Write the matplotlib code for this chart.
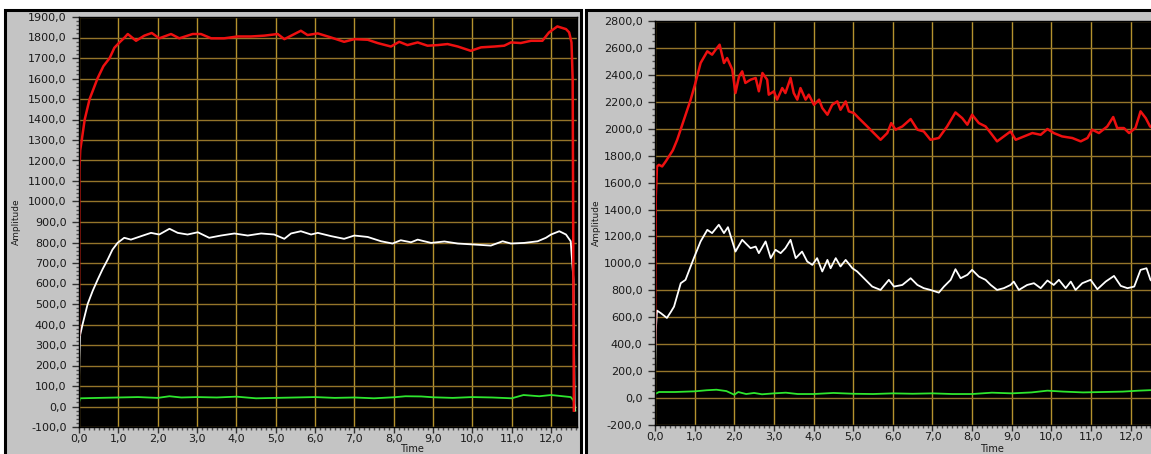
import matplotlib
matplotlib.use("Agg")
import matplotlib.pyplot as plt
from matplotlib.patches import Rectangle
from matplotlib.ticker import MultipleLocator, FuncFormatter

# ---------------- data ----------------
# Left graph
L_red_t = [0, 0.01, 0.03, 0.07, 0.145, 0.27, 0.47, 0.62, 0.78, 0.9, 1.05, 1.16, 1.24, 1.45, 1.66,
           1.85, 2.04, 2.34, 2.55, 2.89, 3.1, 3.36, 3.69, 4.03, 4.37, 4.71, 5.05, 5.22, 5.64, 5.81,
           6.07, 6.41, 6.74, 7.0, 7.34, 7.59, 7.93, 8.14, 8.35, 8.61, 8.86, 9.12, 9.37, 9.63, 9.96,
           10.22, 10.56, 10.81, 10.98, 11.23, 11.49, 11.78, 11.95, 12.16, 12.38, 12.46, 12.52, 12.55, 12.58]
L_red_v = [350, 1150, 1250, 1300, 1400, 1500, 1600, 1660, 1700, 1750, 1780, 1800, 1817, 1784, 1809,
           1822, 1796, 1817, 1796, 1817, 1817, 1796, 1796, 1805, 1805, 1809, 1817, 1792, 1833, 1812,
           1820, 1800, 1779, 1792, 1789, 1773, 1756, 1779, 1763, 1776, 1760, 1763, 1768, 1756, 1735,
           1752, 1756, 1760, 1776, 1773, 1784, 1784, 1825, 1854, 1841, 1825, 1776, 1597, -20]

L_white_t = [0, 0.01, 0.03, 0.09, 0.22, 0.35, 0.475, 0.6, 0.73, 0.85, 0.98, 1.15, 1.32, 1.58, 1.83,
             2.04, 2.3, 2.51, 2.76, 3.02, 3.31, 3.61, 3.95, 4.29, 4.63, 4.96, 5.22, 5.39, 5.64, 5.9,
             6.07, 6.41, 6.74, 7.0, 7.34, 7.68, 7.97, 8.18, 8.44, 8.61, 8.95, 9.29, 9.63, 10.05, 10.47,
             10.77, 10.98, 11.32, 11.66, 11.87, 12.0, 12.21, 12.38, 12.5, 12.57, 12.6]
L_white_v = [120, 230, 350, 400, 500, 565, 619, 670, 717, 765, 798, 823, 814, 831, 847,
             839, 867, 847, 839, 850, 823, 834, 844, 834, 844, 839, 818, 844, 855, 839,
             847, 831, 818, 834, 827, 806, 795, 811, 801, 814, 798, 805, 795, 790, 785,
             806, 795, 798, 806, 823, 839, 855, 839, 806, 619, -20]

L_green_t = [0, 0.03, 0.5, 1.0, 1.5, 2.0, 2.3, 2.6, 3.0, 3.5, 4.0, 4.5, 5.0, 5.5, 6.0, 6.5, 7.0,
             7.5, 8.0, 8.3, 8.7, 9.0, 9.5, 10.0, 10.5, 11.0, 11.3, 11.7, 12.0, 12.3, 12.5, 12.57, 12.62]
L_green_v = [20, 40, 42, 44, 46, 42, 50, 44, 46, 44, 48, 40, 42, 44, 46, 42, 44,
             40, 45, 50, 49, 45, 42, 46, 44, 40, 56, 50, 56, 50, 46, 30, -20]

# Right graph
R_red_t = [0, 0.02, 0.05, 0.1, 0.18, 0.27, 0.35, 0.45, 0.56, 0.73, 0.9, 1.02, 1.15, 1.32, 1.44,
           1.53, 1.63, 1.74, 1.82, 1.95, 2.03, 2.12, 2.2, 2.28, 2.41, 2.54, 2.62, 2.71, 2.83, 2.87,
           3.0, 3.08, 3.21, 3.29, 3.42, 3.5, 3.59, 3.67, 3.8, 3.88, 4.01, 4.14, 4.22, 4.35, 4.47,
           4.6, 4.68, 4.81, 4.89, 5.02, 5.14, 5.31, 5.48, 5.69, 5.86, 5.96, 6.07, 6.24, 6.45, 6.62,
           6.78, 6.95, 7.16, 7.37, 7.58, 7.75, 7.88, 8.0, 8.17, 8.34, 8.47, 8.63, 8.8, 8.97, 9.1,
           9.31, 9.52, 9.73, 9.9, 10.06, 10.27, 10.53, 10.74, 10.91, 11.03, 11.2, 11.41, 11.56, 11.66,
           11.83, 11.96, 12.12, 12.25, 12.38, 12.49, 12.6]
R_red_v = [400, 1500, 1720, 1732, 1720, 1757, 1794, 1840, 1918, 2067, 2216, 2340, 2488, 2575, 2550,
           2587, 2624, 2488, 2525, 2439, 2265, 2389, 2426, 2340, 2364, 2377, 2278, 2414, 2364, 2253,
           2278, 2216, 2302, 2265, 2377, 2265, 2216, 2302, 2216, 2253, 2178, 2216, 2154, 2104, 2178,
           2203, 2141, 2203, 2129, 2116, 2079, 2030, 1980, 1918, 1968, 2042, 1993, 2017, 2072, 1993,
           1980, 1918, 1931, 2017, 2121, 2079, 2030, 2104, 2042, 2017, 1968, 1906, 1943, 1980, 1918,
           1943, 1968, 1955, 1998, 1968, 1943, 1931, 1906, 1931, 1993, 1968, 2017, 2087, 2005,
           2005, 1968, 2005, 2129, 2079, 2017, 2000]

R_white_t = [0, 0.02, 0.05, 0.15, 0.3, 0.4, 0.48, 0.65, 0.77, 0.98, 1.15, 1.32, 1.44, 1.61, 1.74,
             1.84, 2.03, 2.2, 2.41, 2.54, 2.62, 2.79, 2.92, 3.04, 3.17, 3.29, 3.42, 3.55, 3.71, 3.84,
             3.97, 4.09, 4.22, 4.35, 4.43, 4.56, 4.68, 4.81, 4.98, 5.1, 5.27, 5.48, 5.69, 5.9, 6.03,
             6.24, 6.45, 6.62, 6.78, 6.95, 7.16, 7.29, 7.46, 7.58, 7.71, 7.88, 8.0, 8.17, 8.34, 8.47,
             8.63, 8.8, 8.97, 9.05, 9.18, 9.39, 9.56, 9.73, 9.9, 10.06, 10.19, 10.36, 10.49, 10.61,
             10.78, 10.99, 11.16, 11.37, 11.58, 11.75, 11.92, 12.09, 12.25, 12.4, 12.5, 12.6]
R_white_v = [150, 500, 650, 630, 595, 640, 679, 853, 878, 1039, 1163, 1249, 1225, 1287, 1225,
             1269, 1088, 1175, 1113, 1125, 1076, 1163, 1039, 1101, 1076, 1113, 1175, 1039, 1088, 1014,
             989, 1039, 940, 1026, 964, 1039, 977, 1026, 964, 940, 890, 828, 803, 878, 828,
             840, 890, 840, 816, 803, 783, 828, 878, 957, 890, 915, 952, 902, 878, 840,
             803, 816, 840, 865, 803, 840, 853, 816, 873, 840, 878, 816, 865, 803,
             853, 878, 808, 865, 907, 833, 816, 828, 952, 964, 878, 850]

R_green_t = [0, 0.1, 0.5, 1.0, 1.3, 1.55, 1.8, 2.0, 2.1, 2.3, 2.5, 2.7, 3.0, 3.3, 3.6, 4.0, 4.5,
             5.0, 5.5, 6.0, 6.5, 7.0, 7.5, 8.0, 8.5, 9.0, 9.5, 9.9, 10.3, 10.8, 11.3, 11.8, 12.2, 12.6]
R_green_v = [30, 45, 45, 50, 58, 62, 52, 25, 45, 30, 38, 28, 35, 40, 30, 30, 38,
             32, 30, 35, 32, 35, 30, 30, 40, 35, 42, 55, 48, 42, 45, 48, 55, 60]

x_label = "Time"
y_label = "Amplitude"

# ---------------- layout ----------------
W, H = 1151, 454
fig = plt.figure(figsize=(W / 100, H / 100), dpi=100)
fig.patch.set_facecolor("white")

PANEL = "#c4c4c4"
GRID_V = "#b4922e"
GRID_H = "#94742a"
TXT = "#1a1a1a"


def px_rect(x0, y0, x1, y1):
    return (x0 / W, (H - y1) / H, (x1 - x0) / W, (y1 - y0) / H)


# panel frames (drawn behind the axes)
for (x0, x1) in [(5, 581), (586, 1170)]:
    l, b, w, h = px_rect(x0, 10, x1, 470)
    fig.patches.append(Rectangle((l, b), w, h, transform=fig.transFigure,
                                 facecolor=PANEL, edgecolor="black", linewidth=2.2, zorder=-5))

fmt = FuncFormatter(lambda v, p: f"{v:.1f}".replace(".", ","))


def make_axes(rect_px, ylim, ymajor, yminor, xmax):
    ax = fig.add_axes(px_rect(*rect_px))
    ax.set_zorder(1)
    ax.set_facecolor("black")
    ax.set_xlim(0, xmax)
    ax.set_ylim(*ylim)
    ax.xaxis.set_major_locator(MultipleLocator(1))
    ax.xaxis.set_minor_locator(MultipleLocator(0.125))
    ax.yaxis.set_major_locator(MultipleLocator(ymajor))
    ax.yaxis.set_minor_locator(MultipleLocator(yminor))
    ax.xaxis.set_major_formatter(fmt)
    ax.yaxis.set_major_formatter(fmt)
    ax.set_axisbelow(True)
    ax.xaxis.grid(True, which="major", color=GRID_V, lw=1.0)
    ax.yaxis.grid(True, which="major", color=GRID_H, lw=1.0)
    ax.tick_params(axis="y", which="major", direction="out", length=5, width=1,
                   color="#303030", labelsize=8, labelcolor=TXT, pad=4)
    ax.tick_params(axis="y", which="minor", direction="out", length=2.5, width=1, color="#505050")
    ax.tick_params(axis="x", which="major", direction="out", length=4, width=1,
                   color="#303030", labelsize=8, labelcolor=TXT, pad=1)
    ax.tick_params(axis="x", which="minor", direction="out", length=2, width=1, color="#505050")
    for s in ax.spines.values():
        s.set_color("black")
        s.set_linewidth(1)
    return ax


ax1 = make_axes((79, 17, 577, 427), (-100, 1900), 100, 20, 12.66)
ax2 = make_axes((655, 21, 1158, 425), (-200, 2800), 200, 50, 12.69)

ax1.plot(L_green_t, L_green_v, color="#2ee62e", lw=1.3)
ax1.plot(L_white_t, L_white_v, color="white", lw=1.3)
ax1.plot(L_red_t, L_red_v, color="#ee1010", lw=1.8)

ax2.plot(R_green_t, R_green_v, color="#2ee62e", lw=1.3)
ax2.plot(R_white_t, R_white_v, color="white", lw=1.3)
ax2.plot(R_red_t, R_red_v, color="#ee1010", lw=1.8)

for ax, lx, ly, ax_x, ay_y in [(ax1, 0.669, -0.054, -0.125, 0.5),
                               (ax2, 0.669, -0.059, -0.116, 0.502)]:
    ax.set_xlabel(x_label, fontsize=7, color=TXT, va="center")
    ax.xaxis.set_label_coords(lx, ly)
    ax.set_ylabel(y_label, fontsize=6.5, color=TXT, va="center")
    ax.yaxis.set_label_coords(ax_x, ay_y)

fig.savefig("out.png", dpi=100, facecolor=fig.get_facecolor())
